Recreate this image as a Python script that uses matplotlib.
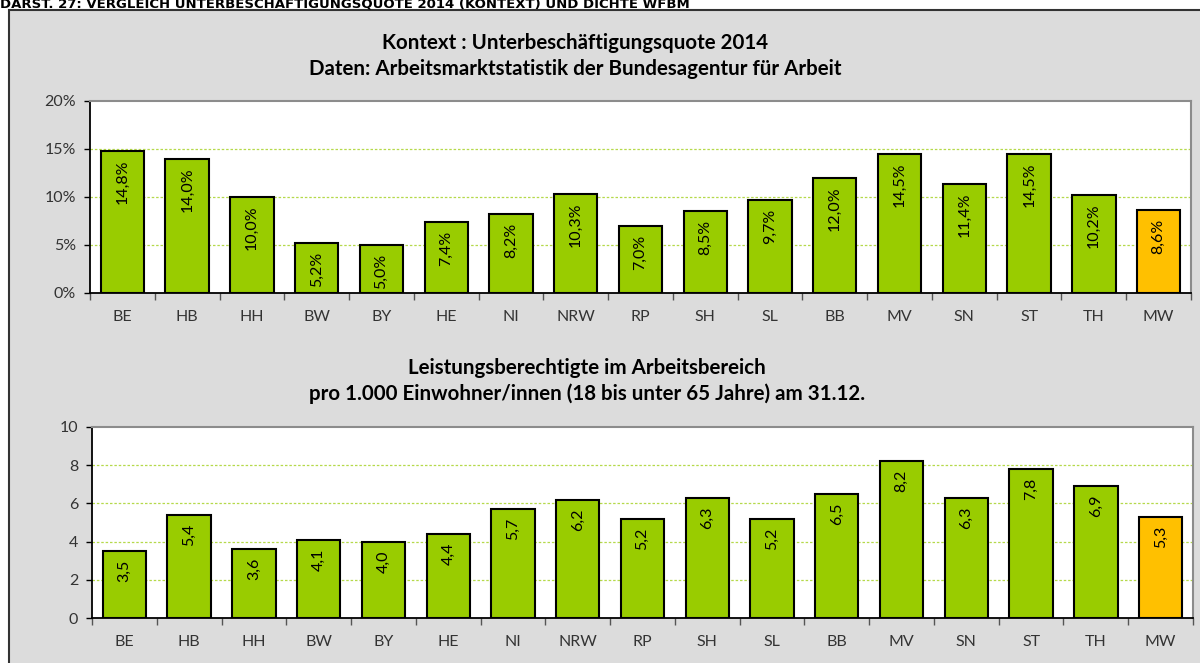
import matplotlib.pyplot as plt
import matplotlib.patches as mpatches
import numpy as np

plt.rcParams['font.family'] = ['Lato', 'DejaVu Sans']

# Bundesländer
laender = ['BE', 'HB', 'HH', 'BW', 'BY', 'HE', 'NI', 'NRW', 'RP', 'SH', 'SL',
           'BB', 'MV', 'SN', 'ST', 'TH', 'MW']

# Unterbeschäftigungsquote 2014 (%)
quote = [14.8, 14.0, 10.0, 5.2, 5.0, 7.4, 8.2, 10.3, 7.0, 8.5, 9.7,
         12.0, 14.5, 11.4, 14.5, 10.2, 8.6]

# Leistungsberechtigte pro 1.000 Einwohner/innen
dichte = [3.5, 5.4, 3.6, 4.1, 4.0, 4.4, 5.7, 6.2, 5.2, 6.3, 5.2,
          6.5, 8.2, 6.3, 7.8, 6.9, 5.3]

gruen = '#99CC00'
orange = '#FFC000'
grid_farbe = '#B5D94A'


def bar_chart(ax, werte, ymax, ystep, fmt, ytick_fmt):
    x = np.arange(len(laender))
    farben = [gruen] * (len(laender) - 1) + [orange]
    ax.bar(x, werte, width=0.67, color=farben, edgecolor='black', linewidth=1.5, zorder=3)
    ax.set_xlim(-0.5, len(laender) - 0.5)
    ax.set_ylim(0, ymax)
    ax.set_facecolor('white')

    yt = np.arange(0, ymax + ystep / 2, ystep)
    ax.set_yticks(yt)
    ax.set_yticklabels([ytick_fmt(v) for v in yt], fontsize=11.5)
    for v in yt[1:-1]:
        ax.axhline(v, color=grid_farbe, linestyle=(0, (2, 1.5)), linewidth=0.9, zorder=1)

    ax.set_xticks(x)
    ax.set_xticklabels(laender, fontsize=11.5, color='#333333')
    ax.tick_params(axis='x', which='major', length=0, pad=12)
    ax.set_xticks(np.arange(-0.5, len(laender)), minor=True)
    ax.tick_params(axis='x', which='minor', length=5, width=1, color='#555555')
    ax.tick_params(axis='y', length=4, width=1, pad=6, labelcolor='#333333')

    for s in ['left', 'bottom']:
        ax.spines[s].set_color('black')
        ax.spines[s].set_linewidth(1.3)
    for s in ['top', 'right']:
        ax.spines[s].set_color('#8c8c8c')
        ax.spines[s].set_linewidth(1.5)

    off = ymax * 0.045
    for xi, v in zip(x, werte):
        ax.text(xi, v - off, fmt(v), rotation=90, ha='center', va='top',
                fontsize=11.5, color='black', zorder=4)


fig = plt.figure(figsize=(12, 6.63), dpi=100)
fig.patch.set_facecolor('white')

# grauer Rahmen
fig.patches.append(mpatches.Rectangle((9 / 1200, -0.01), 1.0, 1 - 10 / 663 + 0.01,
                                      transform=fig.transFigure, facecolor='#DCDCDC',
                                      edgecolor='#333333', linewidth=1.5, zorder=-1))

fig.text(0.0, 1 - 9 / 663, 'DARST. 27: VERGLEICH UNTERBESCHÄFTIGUNGSQUOTE 2014 (KONTEXT) UND DICHTE WFBM',
         ha='left', va='baseline', fontsize=9.5, fontweight='bold', family='DejaVu Sans')

ax1 = fig.add_axes([90 / 1200, 1 - 293 / 663, 1101 / 1200, 192 / 663])
bar_chart(ax1, quote, 20, 5,
          lambda v: f'{v:.1f}%'.replace('.', ','),
          lambda v: f'{v:.0f}%')

ax2 = fig.add_axes([92 / 1200, 1 - 618 / 663, 1101 / 1200, 191 / 663])
bar_chart(ax2, dichte, 10, 2,
          lambda v: f'{v:.1f}'.replace('.', ','),
          lambda v: f'{v:.0f}')

# Titel
titel_fs = 14.8
fig.text(575 / 1200, 1 - 43 / 663, 'Kontext : Unterbeschäftigungsquote 2014',
         ha='center', va='center', fontsize=titel_fs, fontweight='bold')
fig.text(575 / 1200, 1 - 69 / 663, 'Daten: Arbeitsmarktstatistik der Bundesagentur für Arbeit',
         ha='center', va='center', fontsize=titel_fs, fontweight='bold')
fig.text(587 / 1200, 1 - 368 / 663, 'Leistungsberechtigte im Arbeitsbereich',
         ha='center', va='center', fontsize=titel_fs, fontweight='bold')
fig.text(587 / 1200, 1 - 394 / 663, 'pro 1.000 Einwohner/innen (18 bis unter 65 Jahre) am 31.12.',
         ha='center', va='center', fontsize=titel_fs, fontweight='bold')

fig.savefig('out.png', dpi=100)
